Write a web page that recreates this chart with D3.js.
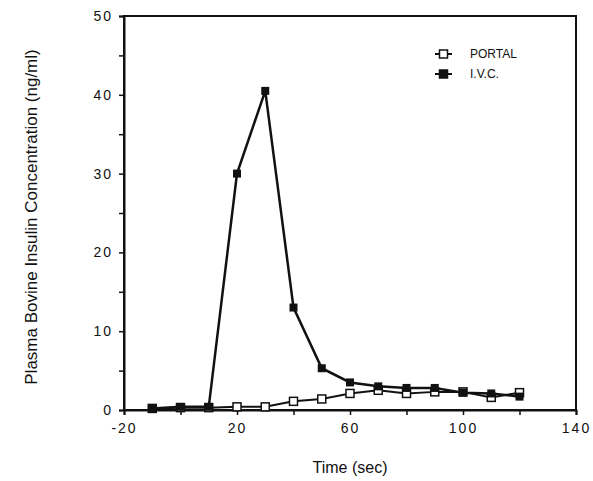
<!DOCTYPE html>
<html>
<head>
<meta charset="utf-8">
<script src="https://cdn.jsdelivr.net/npm/d3@7"></script>
<style>
  body { margin: 0; background: #fff; }
  svg { font-family: "Liberation Sans", Arial, sans-serif; }
</style>
</head>
<body>
<svg id="chart" width="593" height="481"></svg>
<script>
const times = [-10, 0, 10, 20, 30, 40, 50, 60, 70, 80, 90, 100, 110, 120];
const portal = [0.2, 0.3, 0.3, 0.4, 0.4, 1.1, 1.4, 2.1, 2.5, 2.1, 2.3, 2.3, 1.6, 2.2];
const ivc = [0.2, 0.4, 0.4, 30.0, 40.5, 13.0, 5.3, 3.5, 3.0, 2.8, 2.8, 2.2, 2.1, 1.7];
const xTickLabels = [-20, 20, 60, 100, 140];
const yTickLabels = [0, 10, 20, 30, 40, 50];

const svg = d3.select('#chart');
const margin = {top: 16, left: 124, right: 17, bottom: 71};
const width = 593 - margin.left - margin.right;
const height = 481 - margin.top - margin.bottom;

const x = d3.scaleLinear().domain([-20, 140]).range([0, width]);
const y = d3.scaleLinear().domain([0, 50]).range([height, 0]);

const g = svg.append('g').attr('transform', `translate(${margin.left}, ${margin.top})`);

// frame
g.append('rect')
  .attr('width', width)
  .attr('height', height)
  .attr('fill', 'none')
  .attr('stroke', '#111')
  .attr('stroke-width', 2);

// x axis: ticks every 20, labels every 40 (plain hyphen like the original)
const xAxis = d3.axisBottom(x)
  .tickValues(d3.range(-20, 141, 20))
  .tickSize(5)
  .tickFormat(d => xTickLabels.includes(d) ? String(d) : '');
const gx = g.append('g').attr('transform', `translate(0, ${height})`).call(xAxis);

// y axis: ticks every 5, labels every 10
const yAxis = d3.axisLeft(y)
  .tickValues(d3.range(0, 51, 5))
  .tickSize(5)
  .tickFormat(d => yTickLabels.includes(d) ? String(d) : '');
const gy = g.append('g').call(yAxis);

[gx, gy].forEach(a => {
  a.select('.domain').attr('stroke', '#111').attr('stroke-width', 2);
  a.selectAll('.tick line').attr('stroke', '#111').attr('stroke-width', 1.5);
  a.selectAll('.tick text')
    .attr('fill', '#111')
    .style('font-size', '14px')
    .style('letter-spacing', '2px');
});
gx.selectAll('.tick text').attr('dy', '1.05em');
gy.selectAll('.tick text').attr('x', -11);

// lines
const line = d3.line()
  .x((d, i) => x(times[i]))
  .y(d => y(d));

g.append('path').datum(portal)
  .attr('d', line)
  .attr('fill', 'none')
  .attr('stroke', '#111')
  .attr('stroke-width', 2);

g.append('path').datum(ivc)
  .attr('d', line)
  .attr('fill', 'none')
  .attr('stroke', '#111')
  .attr('stroke-width', 2.5);

const ms = 8;
g.selectAll('.portal').data(portal).enter().append('rect')
  .attr('class', 'portal')
  .attr('x', (d, i) => x(times[i]) - ms / 2)
  .attr('y', d => y(d) - ms / 2)
  .attr('width', ms)
  .attr('height', ms)
  .attr('fill', '#fff')
  .attr('stroke', '#111')
  .attr('stroke-width', 1.5);

g.selectAll('.ivc').data(ivc).enter().append('rect')
  .attr('class', 'ivc')
  .attr('x', (d, i) => x(times[i]) - ms / 2)
  .attr('y', d => y(d) - ms / 2)
  .attr('width', ms)
  .attr('height', ms)
  .attr('fill', '#111');

// legend
const legend = svg.append('g').attr('transform', 'translate(435, 54)');
const items = [{name: 'PORTAL', fill: '#fff'}, {name: 'I.V.C.', fill: '#111'}];
items.forEach((it, i) => {
  const row = legend.append('g').attr('transform', `translate(0, ${i * 20})`);
  row.append('line').attr('x1', 0).attr('x2', 17).attr('stroke', '#111').attr('stroke-width', 2);
  row.append('rect').attr('x', 4.5).attr('y', -4).attr('width', 8).attr('height', 8)
    .attr('fill', it.fill).attr('stroke', '#111').attr('stroke-width', 1.5);
  row.append('text').attr('x', 35).attr('dy', '0.35em')
    .style('font-size', '12px').attr('fill', '#111').text(it.name);
});

// axis titles
svg.append('text')
  .attr('x', margin.left + width / 2)
  .attr('y', 473)
  .attr('text-anchor', 'middle')
  .style('font-size', '16px')
  .attr('fill', '#111')
  .text('Time (sec)');

svg.append('text')
  .attr('transform', `translate(37, 217) rotate(-90)`)
  .attr('text-anchor', 'middle')
  .style('font-size', '17px')
  .attr('fill', '#111')
  .text('Plasma Bovine Insulin Concentration (ng/ml)');
</script>
</body>
</html>
